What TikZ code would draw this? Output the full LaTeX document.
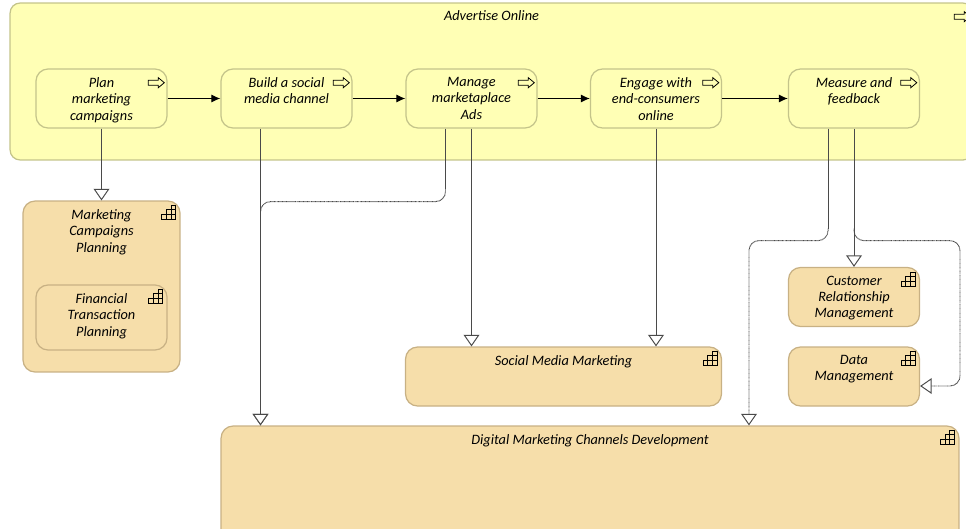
\documentclass[tikz,border=0pt]{standalone}
\usepackage{fontspec}
\setmainfont{Carlito}
\usetikzlibrary{arrows.meta}

\definecolor{procfill}{HTML}{FFFFB5}
\definecolor{procline}{HTML}{C4C48A}
\definecolor{funcfill}{HTML}{F6DEAA}
\definecolor{funcline}{HTML}{C8B184}
\definecolor{flowline}{HTML}{4A4A4A}

\tikzset{
  proc/.style={shape=rectangle,draw=procline,fill=procfill,rounded corners=.24cm,line width=.7pt,minimum width=2.62cm,minimum height=1.18cm},
  func/.style={shape=rectangle,draw=funcline,fill=funcfill,rounded corners=.24cm,line width=.7pt,minimum width=2.62cm,minimum height=1.18cm},
  caption/.style={anchor=north,align=center,inner sep=0pt,font=\fontsize{8.15}{9.35}\selectfont\itshape,yshift=-.17cm},
  real/.style={flowline,line width=.4pt,rounded corners=.2cm,-{Triangle[open,fill=white,line width=.55pt,length=6.6pt,width=9pt]}},
  plain/.style={flowline,line width=.4pt},
  dots/.style={real,line width=.55pt,dash pattern=on .45pt off .3pt},
  trig/.style={black,line width=.6pt,-{Latex[length=5.2pt,width=4.6pt]}},
  procicon/.pic={\draw[black,line width=.45pt,fill=procfill] (-8,-2.5) -- (2,-2.5) -- (2,-5) -- (8,0) -- (2,5) -- (2,2.5) -- (-8,2.5) -- cycle;},
  funcicon/.pic={\draw[black,line width=.45pt] (-7,7) rectangle (7,2) (-2.3,2) rectangle (7,-2.7) (2.3,-2.7) rectangle (7,-7) (-2.3,2) -- (-2.3,7) (2.3,-2.7) -- (2.3,7);}
}

\begin{document}
\begin{tikzpicture}[x=.02cm,y=-.02cm]
  \clip (0,0) rectangle (966,528);

  % process boxes
  \node[proc,minimum width=19.26cm,minimum height=3.14cm,rounded corners=.2cm] (advertise) at (491.5,81.5) {};
  \node[proc] (plan) at (101.5,98.5) {};
  \node[proc] (build) at (286.5,98.5) {};
  \node[proc] (manage) at (471.5,98.5) {};
  \node[proc] (engage) at (656,98.5) {};
  \node[proc] (measure) at (854,98.5) {};

  % function boxes
  \node[func,minimum width=3.14cm,minimum height=3.42cm] (campaigns) at (101.5,286.5) {};
  \node[func,minimum width=2.62cm,minimum height=1.3cm] (financial) at (101.5,317.5) {};
  \node[func] (crm) at (854,297) {};
  \node[func] (data) at (854,376.5) {};
  \node[func,minimum width=6.32cm] (social) at (563.5,376.5) {};
  \node[func,minimum width=14.76cm,minimum height=2.5cm] (digital) at (590,488.5) {};

  % texts
  \node[caption,yshift=.02cm] (advertisetext) at (advertise.north) {Advertise Online};
  \node[caption] (plantext) at (plan.north) {Plan\\marketing\\campaigns};
  \node[caption] (buildtext) at (build.north) {Build a social\\media channel};
  \node[caption] (managetext) at (manage.north) {Manage\\marketaplace\\Ads};
  \node[caption] (engagetext) at (engage.north) {Engage with\\end-consumers\\online};
  \node[caption] (measuretext) at (measure.north) {Measure and\\feedback};
  \node[caption] (campaignstext) at (campaigns.north) {Marketing\\Campaigns\\Planning};
  \node[caption] (financialtext) at (financial.north) {Financial\\Transaction\\Planning};
  \node[caption] (crmtext) at (crm.north) {Customer\\Relationship\\Management};
  \node[caption] (datatext) at (data.north) {Data\\Management};
  \node[caption] (socialtext) at (social.north) {Social Media Marketing};
  \node[caption] (digitaltext) at (digital.north) {Digital Marketing Channels Development};

  % icons
  \foreach \n in {advertise,plan,build,manage,engage,measure}
    \pic at ([xshift=-.226cm,yshift=-.286cm]\n.north east) {procicon};
  \foreach \n in {campaigns,financial,crm,data,social,digital}
    \pic at ([xshift=-.24cm,yshift=-.24cm]\n.north east) {funcicon};

  % triggering
  \path [trig](plan) edge (build);
  \path [trig](build) edge (manage);
  \path [trig](manage) edge (engage);
  \path [trig](engage) edge (measure);

  % realization
  \path [real](plan) edge (campaigns);
  \draw [real]([xshift=-.52cm]build.south) -- ([xshift=-.52cm]build.south |- digital.north);
  \draw [plain]([xshift=-.52cm]manage.south) -- ++(0,60) coordinate (managebend);
  \draw [dots](managebend) -- ++(0,13) -- ++(-185,0) -- ([xshift=-.52cm]build.south |- digital.north);
  \draw [real](manage.south) -- (manage.south |- social.north);
  \draw [real](engage.south) -- (engage.south |- social.north);
  \draw [real](measure) -- (crm);
  \draw [plain]([xshift=-.52cm]measure.south) -- ++(0,100) coordinate (measurebend);
  \draw [dots](measurebend) -- ++(0,12) -- ++(-79,0) -- ([xshift=3.18cm]digital.north);
  \draw [dots](measure.south) ++(0,100) -- ++(0,12) -- ++(106,0) |- ([yshift=-.19cm]data.east);
\end{tikzpicture}
\end{document}
